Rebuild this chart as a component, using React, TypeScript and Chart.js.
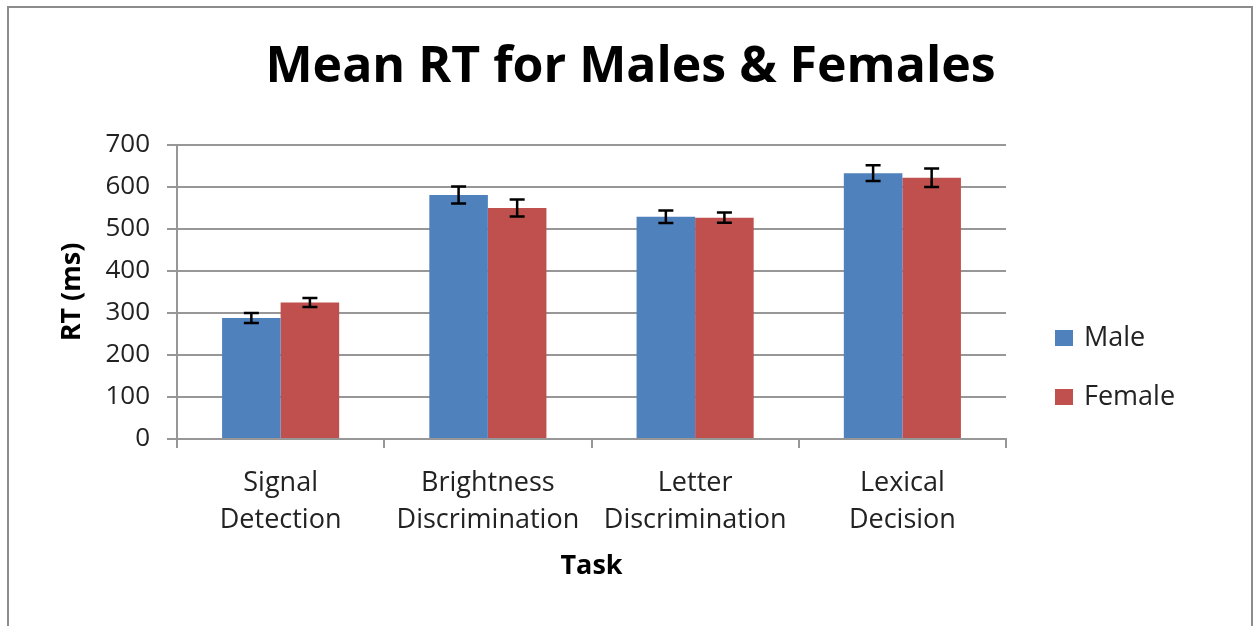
import React, { useEffect, useRef } from "react";
import { Chart, registerables } from "chart.js";

Chart.register(...registerables);

const categories: string[][] = [
  ["Signal", "Detection"],
  ["Brightness", "Discrimination"],
  ["Letter", "Discrimination"],
  ["Lexical", "Decision"],
];
const seriesNames = ["Male", "Female"];
const maleRT = [288, 581, 529, 633];
const maleErr = [12, 20, 15, 19];
const femaleRT = [325, 550, 527, 622];
const femaleErr = [11, 20, 12, 22];
const yMin = 0;
const yMax = 700;
const yStep = 100;

const FONT = "'Open Sans', 'Noto Sans', sans-serif";
const GRID = "#979797";

const W = 1253;
const H = 626;

const errorBars = {
  id: "errorBars",
  afterDatasetsDraw(chart: any) {
    const { ctx } = chart;
    const y = chart.scales.y;
    chart.data.datasets.forEach((ds: any, di: number) => {
      const meta = chart.getDatasetMeta(di);
      meta.data.forEach((bar: any, i: number) => {
        const v = ds.data[i];
        const e = ds.errors[i];
        const yt = y.getPixelForValue(v + e);
        const yb = y.getPixelForValue(v - e);
        const x = bar.x;
        const cap = 7.5;
        ctx.save();
        ctx.strokeStyle = "#000";
        ctx.lineWidth = 2.5;
        ctx.beginPath();
        ctx.moveTo(x, yt);
        ctx.lineTo(x, yb);
        ctx.moveTo(x - cap, yt);
        ctx.lineTo(x + cap, yt);
        ctx.moveTo(x - cap, yb);
        ctx.lineTo(x + cap, yb);
        ctx.stroke();
        ctx.restore();
      });
    });
  },
};

// Side legend drawn in the space reserved by the blank right-hand axis.
const sideLegend = {
  id: "sideLegend",
  afterDraw(chart: any) {
    const { ctx, chartArea } = chart;
    const boxW = 18;
    const boxH = 16;
    const x0 = chartArea.right + 49;
    const y0 = 338;
    const gap = 59;
    ctx.save();
    ctx.font = `27px ${FONT}`;
    ctx.textBaseline = "middle";
    ctx.textAlign = "left";
    chart.data.datasets.forEach((ds: any, i: number) => {
      const cy = y0 + i * gap;
      ctx.fillStyle = ds.backgroundColor;
      ctx.fillRect(x0, cy - boxH / 2, boxW, boxH);
      ctx.fillStyle = "#222";
      ctx.fillText(ds.label, x0 + boxW + 11, cy);
    });
    ctx.restore();
  },
};

const whiteBg = {
  id: "whiteBg",
  beforeDraw(chart: any) {
    const { ctx } = chart;
    ctx.save();
    ctx.fillStyle = "#fff";
    ctx.fillRect(0, 0, chart.width, chart.height);
    ctx.restore();
  },
};

export default function App() {
  const ref = useRef<HTMLCanvasElement | null>(null);

  useEffect(() => {
    if (!ref.current) return;
    const chart = new Chart(ref.current, {
      type: "bar",
      data: {
        labels: categories,
        datasets: [
          {
            label: seriesNames[0],
            data: maleRT,
            errors: maleErr,
            backgroundColor: "#4F81BD",
            borderWidth: 0,
          } as any,
          {
            label: seriesNames[1],
            data: femaleRT,
            errors: femaleErr,
            backgroundColor: "#C0504D",
            borderWidth: 0,
          } as any,
        ],
      },
      options: {
        responsive: false,
        animation: false,
        devicePixelRatio: 1,
        layout: { padding: { left: 8, right: 0, top: 0, bottom: 0 } },
        datasets: {
          bar: { categoryPercentage: 0.565, barPercentage: 1.0 },
        },
        plugins: {
          title: {
            display: true,
            text: "Mean RT for Males & Females",
            color: "#000",
            font: { family: FONT, size: 50, weight: "bold", lineHeight: 1.2 },
            padding: { top: 38, bottom: 47 },
          },
          legend: { display: false },
          tooltip: { enabled: false },
        },
        scales: {
          x: {
            grid: {
              display: true,
              drawOnChartArea: false,
              drawTicks: true,
              tickLength: 9,
              color: GRID,
              lineWidth: 2,
              offset: true,
            },
            border: { display: true, color: GRID, width: 2 },
            ticks: {
              color: "#222",
              font: { family: FONT, size: 27, lineHeight: 1.4 },
              padding: 16,
              maxRotation: 0,
              autoSkip: false,
            },
            title: {
              display: true,
              text: "Task",
              color: "#000",
              font: { family: FONT, size: 27, weight: "bold", lineHeight: 1.2 },
              padding: { top: 0, bottom: 43 },
            },
            afterFit(scale: any) {
              scale.height = 187;
            },
          },
          y: {
            min: yMin,
            max: yMax,
            ticks: {
              stepSize: yStep,
              color: "#222",
              font: { family: FONT, size: 26 },
              padding: 17,
            },
            grid: {
              color: GRID,
              lineWidth: 2,
              tickLength: 10,
              drawTicks: true,
            },
            border: { display: true, color: GRID, width: 2 },
            title: {
              display: true,
              text: "RT (ms)",
              color: "#000",
              font: { family: FONT, size: 27, weight: "bold", lineHeight: 1.2 },
              padding: { top: 48, bottom: 0 },
            },
            afterFit(scale: any) {
              scale.width = 169;
            },
          },
          legendSpace: {
            type: "linear",
            position: "right",
            display: true,
            grid: { display: false },
            border: { display: false },
            ticks: { display: false },
            afterFit(scale: any) {
              scale.width = 247;
            },
          },
        },
      },
      plugins: [whiteBg, errorBars, sideLegend],
    } as any);
    return () => chart.destroy();
  }, []);

  return (
    <div style={{ position: "absolute", left: 0, top: 0, width: W, height: H, background: "#fff", overflow: "hidden" }}>
      <canvas ref={ref} width={W} height={H} style={{ display: "block", width: W, height: H }} />
      <div
        style={{
          position: "absolute",
          left: 7,
          top: 6,
          width: 1246,
          height: 660,
          boxSizing: "border-box",
          border: "2px solid #8c8c8c",
          pointerEvents: "none",
        }}
      />
    </div>
  );
}
